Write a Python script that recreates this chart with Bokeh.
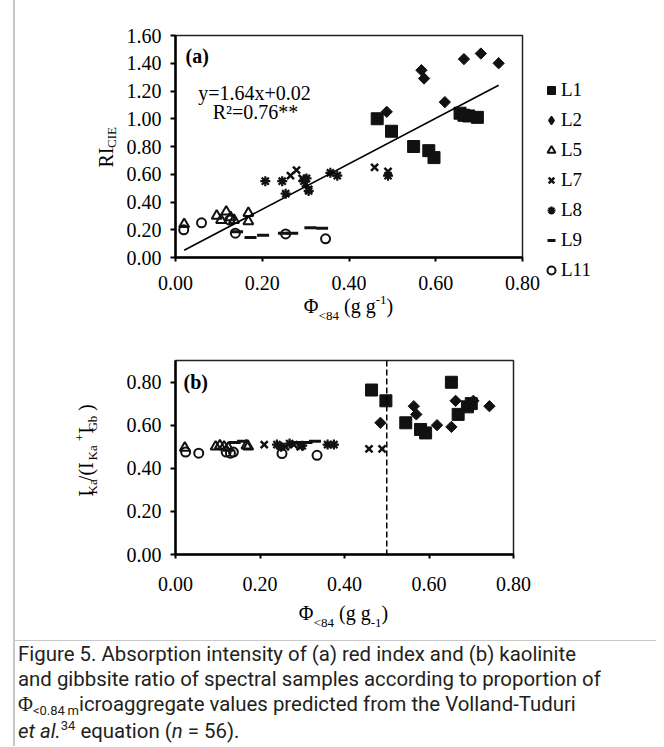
import math
from bokeh.plotting import figure
from bokeh.models import (Range1d, FixedTicker, PrintfTickFormatter, Label, Legend,
                          LegendItem, Span, Div, LinearAxis)
from bokeh.layouts import column
from bokeh.embed import file_html
from bokeh.resources import INLINE

# ---------------- data: panel (a) RI_CIE vs Phi<84 ----------------
L1_a_x = [0.465, 0.498, 0.549, 0.584, 0.596, 0.656, 0.665, 0.676, 0.696]
L1_a_y = [1.00, 0.91, 0.80, 0.77, 0.72, 1.04, 1.025, 1.02, 1.01]
L2_a_x = [0.487, 0.567, 0.573, 0.621, 0.665, 0.704, 0.745]
L2_a_y = [1.05, 1.35, 1.29, 1.12, 1.43, 1.47, 1.40]
L5_a_x = [0.020, 0.095, 0.105, 0.117, 0.127, 0.135, 0.168, 0.168]
L5_a_y = [0.24, 0.30, 0.27, 0.33, 0.29, 0.27, 0.32, 0.26]
L7_a_x = [0.265, 0.279, 0.292, 0.300, 0.307, 0.459, 0.490]
L7_a_y = [0.59, 0.63, 0.57, 0.53, 0.49, 0.65, 0.62]
L8_a_x = [0.207, 0.246, 0.254, 0.296, 0.302, 0.307, 0.357, 0.373, 0.490]
L8_a_y = [0.55, 0.55, 0.46, 0.55, 0.57, 0.48, 0.61, 0.59, 0.59]
L9_a_x = [0.142, 0.173, 0.202, 0.250, 0.269, 0.311, 0.338]
L9_a_y = [0.185, 0.145, 0.16, 0.175, 0.175, 0.215, 0.21]
L11_a_x = [0.019, 0.060, 0.125, 0.138, 0.254, 0.346]
L11_a_y = [0.20, 0.25, 0.27, 0.175, 0.17, 0.135]

fit_slope = 1.64
fit_intercept = 0.02
fit_x = [0.02, 0.745]

# ---------------- data: panel (b) IKa/(IKa+IGb) vs Phi<84 ----------------
L1_b_x = [0.464, 0.498, 0.545, 0.580, 0.592, 0.653, 0.669, 0.691, 0.700]
L1_b_y = [0.763, 0.713, 0.611, 0.580, 0.564, 0.799, 0.650, 0.685, 0.700]
L2_b_x = [0.485, 0.564, 0.570, 0.619, 0.653, 0.663, 0.705, 0.743]
L2_b_y = [0.611, 0.688, 0.650, 0.600, 0.592, 0.713, 0.713, 0.688]
L5_b_x = [0.022, 0.095, 0.105, 0.115, 0.125, 0.168, 0.172]
L5_b_y = [0.495, 0.500, 0.505, 0.500, 0.495, 0.505, 0.500]
L7_b_x = [0.210, 0.260, 0.280, 0.295, 0.458, 0.489]
L7_b_y = [0.510, 0.500, 0.510, 0.500, 0.490, 0.490]
L8_b_x = [0.240, 0.250, 0.270, 0.300, 0.360, 0.375]
L8_b_y = [0.510, 0.500, 0.515, 0.505, 0.510, 0.510]
L9_b_x = [0.140, 0.160, 0.285, 0.310, 0.330]
L9_b_y = [0.520, 0.525, 0.520, 0.520, 0.525]
L11_b_x = [0.024, 0.055, 0.120, 0.130, 0.137, 0.252, 0.335]
L11_b_y = [0.475, 0.470, 0.475, 0.470, 0.475, 0.468, 0.460]
threshold_x = 0.5

series_names = ["L1", "L2", "L5", "L7", "L8", "L9", "L11"]
x_ticks = [0.0, 0.2, 0.4, 0.6, 0.8]
y_ticks_a = [0.0, 0.2, 0.4, 0.6, 0.8, 1.0, 1.2, 1.4, 1.6]
y_ticks_b = [0.0, 0.2, 0.4, 0.6, 0.8]

# axis-title pieces: (text, font px, role)
xlab_a = [("Φ", 20, "main"), ("<84", 13, "sub"), (" (g g", 20, "main"), ("-1", 13, "sup"), (")", 20, "main")]
xlab_b = [("Φ", 20, "main"), ("<84", 13, "sub"), (" (g g", 20, "main"), ("-1", 13, "sub"), (")", 20, "main")]
ylab_a = [("RI", 20, "main"), ("CIE", 13, "sub")]
ylab_b = [("I", 20, "main"), ("Ka", 13, "sub"), ("/(I", 20, "main"), ("Ka", 13, "sub"),
          ("+", 13, "sup"), ("I", 20, "main"), ("Gb", 13, "sub"), (")", 20, "main")]

SERIF = "Liberation Serif"

# Times / Liberation Serif advance widths (em)
W = {' ': .25, '(': .333, ')': .333, '/': .278, '+': .564, '<': .564, '-': .333,
     '.': .25, 'I': .333, 'K': .722, 'a': .444, 'G': .722, 'b': .5, 'g': .5,
     'C': .667, 'E': .611, 'R': .667, 'Φ': .76}


def tw(s, size):
    return sum(W.get(c, 0.5) for c in s) * size


def seg_centers(start, segs, direction=1):
    out = []
    pos = start
    for text, size, role in segs:
        stripped = text.lstrip(" ")
        lead = tw(text[:len(text) - len(stripped)], size)
        w = tw(stripped, size)
        out.append((stripped, size, role, pos + direction * (lead + w / 2)))
        pos += direction * (lead + w)
    return out


def text_axis(p, side, pieces, size, standoff, vertical):
    ticks = [c for (_, _, _, c) in pieces]
    labels = [t for (t, _, _, _) in pieces]
    ax = LinearAxis(ticker=FixedTicker(ticks=ticks),
                    major_label_overrides=dict(zip(ticks, labels)))
    ax.axis_line_color = None
    ax.major_tick_line_color = None
    ax.minor_tick_line_color = None
    ax.major_tick_out = 0
    ax.major_tick_in = 0
    ax.minor_tick_out = 0
    ax.minor_tick_in = 0
    ax.major_label_standoff = standoff
    ax.major_label_text_font = SERIF
    ax.major_label_text_font_size = f"{size}px"
    ax.major_label_text_color = "black"
    if vertical:
        ax.major_label_orientation = math.pi / 2
    p.add_layout(ax, side)


def make_fig(bl, bt, fw, fh, br, bb, ymax, yticks, x_std):
    p = figure(frame_width=fw, frame_height=fh, min_border_left=bl, min_border_top=bt,
               min_border_right=br, min_border_bottom=bb,
               x_range=Range1d(0, 0.8), y_range=Range1d(0, ymax),
               output_backend="svg", toolbar_location=None)
    p.border_fill_color = None
    p.background_fill_color = "white"
    p.outline_line_color = "#222222"
    p.outline_line_width = 1.5
    p.xgrid.visible = False
    p.ygrid.visible = False
    p.xaxis.ticker = FixedTicker(ticks=x_ticks)
    p.yaxis.ticker = FixedTicker(ticks=yticks)
    for ax in (p.xaxis[0], p.yaxis[0]):
        ax.formatter = PrintfTickFormatter(format="%.2f")
        ax.axis_line_width = 2.5
        ax.axis_line_color = "black"
        ax.major_tick_line_width = 2
        ax.major_tick_in = 0
        ax.major_tick_out = 5
        ax.minor_tick_line_color = None
        ax.minor_tick_out = 0
        ax.minor_tick_in = 0
        ax.major_label_text_font = SERIF
        ax.major_label_text_font_size = "20px"
        ax.major_label_text_color = "black"
    p.yaxis[0].major_label_standoff = 9
    p.xaxis[0].major_label_standoff = x_std
    p.xaxis[0].major_tick_out = 4
    return p


INK = "#111111"
SPECS = [
    dict(marker="square", size=12, fill_color=INK, line_color=INK, line_width=1),
    dict(marker="square", size=8, angle=math.pi / 4, fill_color=INK, line_color=INK, line_width=1),
    dict(marker="triangle", size=10, fill_color=None, line_color=INK, line_width=2),
    dict(marker="x", size=10, line_color=INK, line_width=2.5),
    dict(marker="asterisk", size=10, line_color=INK, line_width=2.2),
    dict(marker="dash", size=12, line_color=INK, line_width=3),
    dict(marker="circle", size=9, fill_color=None, line_color=INK, line_width=2),
]


def add_series(p, data):
    # a tiny diamond under each L2 mark provides the diamond legend swatch
    key_l2 = p.scatter(data[1][0], data[1][1], marker="diamond", size=1,
                       fill_color=INK, line_color=INK, line_width=1.5)
    rs = [p.scatter(xs, ys, **spec) for (xs, ys), spec in zip(data, SPECS)]
    rs[1] = key_l2
    return rs


TOTAL_W = 656

# ---------------- panel (a) ----------------
FL_A, FT_A, FW_A, FH_A = 170, 35, 347, 222
FB_A = FT_A + FH_A
pa = make_fig(FL_A, FT_A, FW_A, FH_A, TOTAL_W - FL_A - FW_A, 73, 1.6, y_ticks_a, 14)

ra = add_series(pa, [(L1_a_x, L1_a_y), (L2_a_x, L2_a_y), (L5_a_x, L5_a_y), (L7_a_x, L7_a_y),
                     (L8_a_x, L8_a_y), (L9_a_x, L9_a_y), (L11_a_x, L11_a_y)])
pa.line(fit_x, [fit_slope * v + fit_intercept for v in fit_x], line_color="black", line_width=1.6)

legend = Legend(items=[LegendItem(label=n, renderers=[r]) for n, r in zip(series_names, ra)],
                location=(19, -24), padding=5, spacing=8, glyph_width=20, glyph_height=22,
                label_height=22, label_standoff=0, border_line_color=None, margin=0,
                background_fill_color=None, label_text_font=SERIF,
                label_text_font_size="19px", label_text_color="black")
pa.add_layout(legend, "right")

pa.add_layout(Label(x=10, y=FB_A - 55, x_units="screen", y_units="screen", text="(a)",
                    text_font=SERIF, text_font_size="20px", text_font_style="bold",
                    text_baseline="middle", text_color="black"))
pa.add_layout(Label(x=249 - FL_A, y=FB_A - 92, x_units="screen", y_units="screen",
                    text="y=1.64x+0.02", text_font=SERIF, text_font_size="20px",
                    text_align="center", text_baseline="middle", text_color="black"))
pa.add_layout(Label(x=250 - FL_A, y=FB_A - 111, x_units="screen", y_units="screen",
                    text="R²=0.76**", text_font=SERIF, text_font_size="20px",
                    text_align="center", text_baseline="middle", text_color="black"))


def to_data_x(X, fl, fw):
    return (X - fl) / fw * 0.8


def to_data_y(Y, fb, fh, ymax):
    return (fb - Y) / fh * ymax


# x title (a): stacked text axes below (sup, main, sub)
segs = seg_centers(298, xlab_a)
pcs = lambda role: [(t, s, r, to_data_x(c, FL_A, FW_A)) for (t, s, r, c) in segs if r == role]
text_axis(pa, "below", pcs("sup"), 13, 3, False)
text_axis(pa, "below", pcs("main"), 20, -12, False)
text_axis(pa, "below", pcs("sub"), 13, -12, False)

# y title (a): stacked text axes left (sub nearest, then main)
segs = seg_centers(157, ylab_a, direction=-1)
pcs = lambda role: [(t, s, r, to_data_y(c, FB_A, FH_A, 1.6)) for (t, s, r, c) in segs if r == role]
text_axis(pa, "left", pcs("sub"), 13, 12, True)
text_axis(pa, "left", pcs("main"), 20, -12, True)

# ---------------- panel (b) ----------------
FL_B, FT_B, FW_B, FH_B = 175, 30, 338, 194
PB_TOP = 330
FB_B = FT_B + FH_B            # frame bottom inside this figure
pb = make_fig(FL_B, FT_B, FW_B, FH_B, TOTAL_W - FL_B - FW_B, 86, 0.9, y_ticks_b, 18)

add_series(pb, [(L1_b_x, L1_b_y), (L2_b_x, L2_b_y), (L5_b_x, L5_b_y), (L7_b_x, L7_b_y),
                (L8_b_x, L8_b_y), (L9_b_x, L9_b_y), (L11_b_x, L11_b_y)])
pb.add_layout(Span(location=threshold_x, dimension="height", line_color="black",
                   line_width=1.5, line_dash="6 3"))

pb.add_layout(Label(x=8, y=(FB_B + PB_TOP) - 381, x_units="screen", y_units="screen", text="(b)",
                    text_font=SERIF, text_font_size="20px", text_font_style="bold",
                    text_baseline="middle", text_color="black"))

segs = seg_centers(298, xlab_b)
pcs = lambda role: [(t, s, r, to_data_x(c, FL_B, FW_B)) for (t, s, r, c) in segs if r == role]
text_axis(pb, "below", pcs("main"), 20, 8, False)
text_axis(pb, "below", pcs("sub"), 13, -12, False)

segs = seg_centers(493, ylab_b, direction=-1)
pcs = lambda role: [(t, s, r, to_data_y(c, FB_B + PB_TOP, FH_B, 0.9)) for (t, s, r, c) in segs if r == role]
text_axis(pb, "left", pcs("sub"), 13, 31, True)
text_axis(pb, "left", pcs("main"), 20, -12, True)
text_axis(pb, "left", pcs("sup"), 13, -19, True)

# ---------------- caption ----------------
caption_html = (
    "Figure 5. Absorption intensity of (a) red index and (b) kaolinite<br>"
    "and gibbsite ratio of spectral samples according to proportion of<br>"
    "<span style=\"font-family:'Liberation Serif';\">Φ</span>"
    "<span style=\"font-size:13px;position:relative;top:4px;\">&lt;0.84\u2009m</span>"
    "icroaggregate values predicted from the Volland-Tuduri<br>"
    "<i>et al.</i><span style=\"font-size:13px;position:relative;top:-8px;\">34</span>"
    " equation (<i>n</i> = 56)."
)
caption = Div(text=caption_html, width=TOTAL_W - 15, height=106, margin=(0, 0, 0, 15),
              styles={"border-top": "1.5px solid #c8c8c8", "font-family": "Roboto",
                      "font-size": "20.4px", "line-height": "25px", "color": "#231f20",
                      "padding-top": "1px", "padding-left": "3px", "box-sizing": "border-box",
                      "overflow": "visible", "white-space": "nowrap"})

layout = column(pa, pb, caption, spacing=0,
                styles={"background": "linear-gradient(to right, #ffffff 0px, #ffffff 13px, "
                                      "#c8c8c8 13px, #c8c8c8 15px, #ffffff 15px)"})

open("out.html", "w").write(file_html(layout, INLINE))
